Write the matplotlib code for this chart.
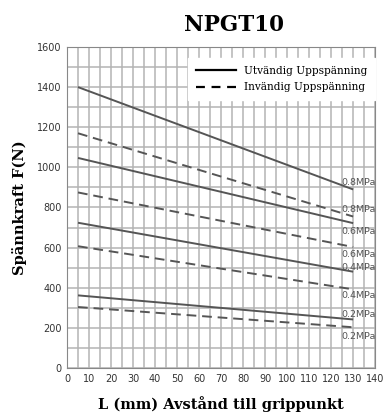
import numpy as np
import matplotlib
matplotlib.use("Agg")
import matplotlib.pyplot as plt

# endpoints (L = 5 and L = 130)
L = [5, 130]
outer_08 = [1400, 890]
outer_06 = [1047, 722]
outer_04 = [724, 480]
outer_02 = [362, 242]
inner_08 = [1170, 755]
inner_06 = [875, 603]
inner_04 = [607, 392]
inner_02 = [304, 203]

labels = ["0.8MPa", "0.8MPa", "0.6MPa", "0.6MPa", "0.4MPa", "0.4MPa", "0.2MPa", "0.2MPa"]
label_y = [925, 790, 682, 567, 500, 360, 268, 155]

line_col = "#555555"
serif = ["DejaVu Serif"]

fig = plt.figure(figsize=(3.84, 4.18), dpi=100)
ax = fig.add_axes([0.1745, 0.1196, 0.8025, 0.768])

ax.set_xlim(0, 140)
ax.set_ylim(0, 1600)
ax.set_xticks(np.arange(0, 141, 10))
ax.set_yticks(np.arange(0, 1601, 200))
ax.set_xticks(np.arange(0, 141, 5), minor=True)
ax.set_yticks(np.arange(0, 1601, 100), minor=True)
ax.grid(which="both", color="#b4b4b4", lw=1.1)
ax.set_axisbelow(True)
ax.tick_params(which="both", length=0, labelsize=7, colors="#333333", pad=4)
for s in ax.spines.values():
    s.set_color("#888888")

for ys in [outer_08, outer_06, outer_04, outer_02]:
    ax.plot(L, ys, color=line_col, lw=1.4, solid_capstyle="butt")
for ys in [inner_08, inner_06, inner_04, inner_02]:
    ax.plot(L, ys, color=line_col, lw=1.4, ls=(0, (5, 3)))

for t, y in zip(labels, label_y):
    ax.text(124.5, y, t, fontsize=6.8, color="#555555", va="center", ha="left", clip_on=False)

h1, = ax.plot([], [], color="black", lw=1.6)
h2, = ax.plot([], [], color="black", lw=1.6, ls=(0, (4, 3)))
leg = ax.legend([h1, h2], ["Utvändig Uppspänning", "Invändig Uppspänning"],
                loc="upper right", bbox_to_anchor=(1.0, 0.965),
                prop={"family": serif, "size": 7.6}, frameon=True, fancybox=False,
                borderaxespad=0, handlelength=3.8, handletextpad=0.8,
                labelspacing=0.65, borderpad=0.7)
leg.get_frame().set_edgecolor("white")
leg.get_frame().set_alpha(1)

fig.text(0.61, 0.94, "NPGT10", fontsize=15.5, fontweight="bold", family=serif,
         ha="center", va="center")
ax.set_ylabel("Spännkraft F(N)", fontsize=10.5, fontweight="bold", family=serif, labelpad=7)
ax.set_xlabel("L (mm) Avstånd till grippunkt", fontsize=10.5, fontweight="bold", family=serif, labelpad=9)

fig.savefig("out.png", dpi=100)
